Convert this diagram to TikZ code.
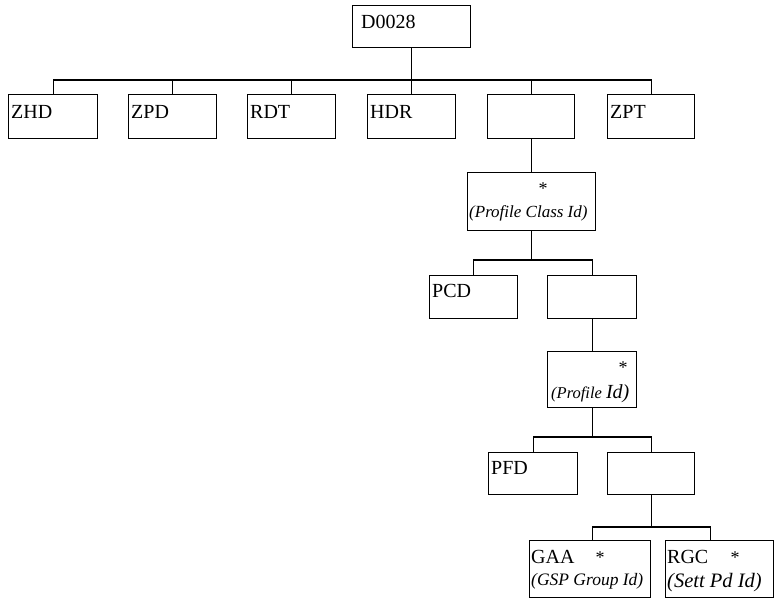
\documentclass[tikz,border=0pt]{standalone}
\usepackage{fontspec}
\setmainfont{Liberation Serif}
\begin{document}
\begin{tikzpicture}[x=1pt,y=-1pt,
  box/.style={draw,line width=1.3pt,rectangle,anchor=north west,inner sep=0pt},
  lab/.style={anchor=base west,inner sep=0pt,font=\fontsize{20}{22}\selectfont},
  starlab/.style={anchor=base,inner sep=0pt,font=\fontsize{18}{20}\selectfont},
  conn/.style={line width=1.3pt}]
\useasboundingbox (0,0) rectangle (775,600);

% boxes
\node[box,minimum width=118pt,minimum height=42pt] (d0028) at (352,5) {};
\node[box,minimum width=89pt,minimum height=44pt] (zhd) at (8,94) {};
\node[box,minimum width=88pt,minimum height=44pt] (zpd) at (128,94) {};
\node[box,minimum width=88pt,minimum height=44pt] (rdt) at (247,94) {};
\node[box,minimum width=88pt,minimum height=44pt] (hdr) at (367,94) {};
\node[box,minimum width=87pt,minimum height=44pt] (blk1) at (487,94) {};
\node[box,minimum width=87pt,minimum height=44pt] (zpt) at (607,94) {};
\node[box,minimum width=128pt,minimum height=58pt] (pcls) at (467,172) {};
\node[box,minimum width=88pt,minimum height=43pt] (pcd) at (429,275) {};
\node[box,minimum width=89pt,minimum height=43pt] (blk2) at (547,275) {};
\node[box,minimum width=89pt,minimum height=56pt] (pid) at (547,351) {};
\node[box,minimum width=89pt,minimum height=42pt] (pfd) at (488,452) {};
\node[box,minimum width=87pt,minimum height=42pt] (blk3) at (607,452) {};
\node[box,minimum width=121pt,minimum height=57pt] (gaa) at (529,540) {};
\node[box,minimum width=108pt,minimum height=57pt] (rgc) at (665,540) {};

% labels
\node[lab] (t0028) at (361,28) {D0028};
\node[lab] (tzhd) at (11,118) {ZHD};
\node[lab] (tzpd) at (131,118) {ZPD};
\node[lab] (trdt) at (250,118) {RDT};
\node[lab] (thdr) at (370,118) {HDR};
\node[lab] (tzpt) at (610,118) {ZPT};
\node[starlab] (spcls) at (543,194) {*};
\node[lab,font=\fontsize{17}{19}\selectfont\itshape] (tpcls) at (469,217) {(Profile Class Id)};
\node[lab] (tpcd) at (432,297) {PCD};
\node[starlab] (spid) at (623,373) {*};
\node[lab] (tpid) at (551,398) {{\fontsize{16.5}{18}\selectfont\itshape (Profile }{\itshape Id)}};
\node[lab] (tpfd) at (491,474) {PFD};
\node[lab] (tgaa) at (531,563) {GAA};
\node[starlab] (sgaa) at (600,563) {*};
\node[lab,font=\fontsize{17.5}{19}\selectfont\itshape] (tgsp) at (531,585) {(GSP Group Id)};
\node[lab] (trgc) at (667,563) {RGC};
\node[starlab] (srgc) at (735,563) {*};
\node[lab,font=\fontsize{20.5}{22}\selectfont\itshape] (tsett) at (667,587) {(Sett Pd Id)};

% connectors
\coordinate (bus1) at (412,80);
\coordinate (bus2) at (532,260);
\coordinate (bus3) at (592,437);
\coordinate (bus4) at (651,527);
\draw[conn] (d0028.south) -- (d0028.south |- bus1);
\draw[conn] (zhd.north) |- (zpt.north |- bus1) -- (zpt.north);
\foreach \n in {zpd,rdt,hdr,blk1} \draw[conn] (\n.north) -- (\n.north |- bus1);
\draw[conn] (pcls.north |- blk1.south) -- (pcls.north);
\draw[conn] (pcls.south) -- (pcls.south |- bus2);
\draw[conn] (pcd.north) |- (bus2) -| (blk2.north);
\draw[conn] (blk2.south) -- (pid.north);
\draw[conn] (pid.south) -- (pid.south |- bus3);
\draw[conn] (pfd.north) |- (bus3) -| (blk3.north);
\draw[conn] (blk3.south) -- (blk3.south |- bus4);
\draw[conn] ([xshift=2.5pt]gaa.north) |- (bus4) -| ([xshift=-9.5pt]rgc.north);
\end{tikzpicture}
\end{document}
